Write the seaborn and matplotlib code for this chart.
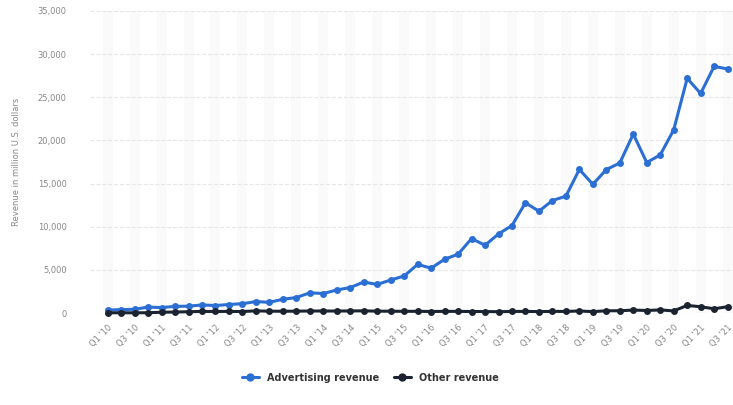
import pandas as pd
import matplotlib.pyplot as plt
import seaborn as sns

# Quarterly revenue in million U.S. dollars, Q1 2010 - Q3 2021
quarters = [f"Q{q} '{y:02d}" for y in range(10, 22) for q in range(1, 5)][:47]

advertising = [
    345, 400, 440, 690,
    637, 776, 798, 943,
    872, 992, 1086, 1329,
    1245, 1599, 1798, 2344,
    2265, 2676, 2957, 3594,
    3317, 3827, 4299, 5637,
    5201, 6239, 6816, 8629,
    7857, 9164, 10142, 12779,
    11795, 13038, 13539, 16640,
    14912, 16624, 17383, 20736,
    17440, 18321, 21221, 27187,
    25439, 28580, 28276,
]
other = [
    30, 35, 30, 40,
    94, 119, 156, 188,
    186, 192, 176, 256,
    213, 214, 218, 241,
    237, 234, 246, 257,
    219, 215, 200, 204,
    181, 197, 195, 180,
    175, 157, 186, 193,
    171, 194, 188, 242,
    165, 263, 269, 346,
    297, 366, 249, 885,
    732, 497, 734,
]

series_names = ['Advertising revenue', 'Other revenue']
colors = ['#2b6fd4', '#1c2330']

df = pd.DataFrame({
    'idx': list(range(len(quarters))) * 2,
    'value': advertising + other,
    'series': [series_names[0]] * len(quarters) + [series_names[1]] * len(quarters),
})

sns.set_style('white')
plt.rcParams['font.family'] = ['DejaVu Sans']

fig = plt.figure(figsize=(7.33, 4.05), dpi=100)
ax = fig.add_axes([0.123, 0.227, 0.877, 0.746])

sns.lineplot(
    data=df, x='idx', y='value', hue='series',
    palette=dict(zip(series_names, colors)),
    marker='o', markersize=5, markeredgewidth=0,
    linewidth=2.2, ax=ax, legend=False, clip_on=False,
)

ax.set_ylim(0, 35000)
ax.set_xlim(-1.3, len(quarters) - 0.6)
ax.set_yticks(range(0, 35001, 5000))
ax.set_yticklabels([f'{v:,}' for v in range(0, 35001, 5000)], fontsize=6, color='#888888')

ticks = list(range(0, len(quarters), 2))
ax.set_xticks(ticks)
ax.set_xticklabels([quarters[i] for i in ticks], rotation=45, ha='right',
                   rotation_mode='anchor', fontsize=6, color='#888888')
ax.tick_params(axis='x', length=0, pad=7)
ax.tick_params(axis='y', length=0, pad=17)

ax.set_xlabel('')
ax.set_ylabel('Revenue in million U.S. dollars', fontsize=6, color='#888888', labelpad=12)

ax.grid(axis='y', color='#e6e6e6', linestyle='--', linewidth=0.8)
ax.grid(axis='x', color='#fafafa', linewidth=7)
ax.set_axisbelow(True)
for s in ax.spines.values():
    s.set_visible(False)

handles = [plt.Line2D([], [], color=c, marker='o', markersize=5, linewidth=2.2)
           for c in colors]
fig.legend(handles, series_names, loc='center', bbox_to_anchor=(0.505, 0.067),
           ncol=2, frameon=False, handlelength=1.8, columnspacing=1.5,
           prop={'size': 7, 'weight': 'semibold'}, labelcolor='#333333')

fig.savefig('out.png', dpi=100, facecolor='white')
plt.close(fig)
